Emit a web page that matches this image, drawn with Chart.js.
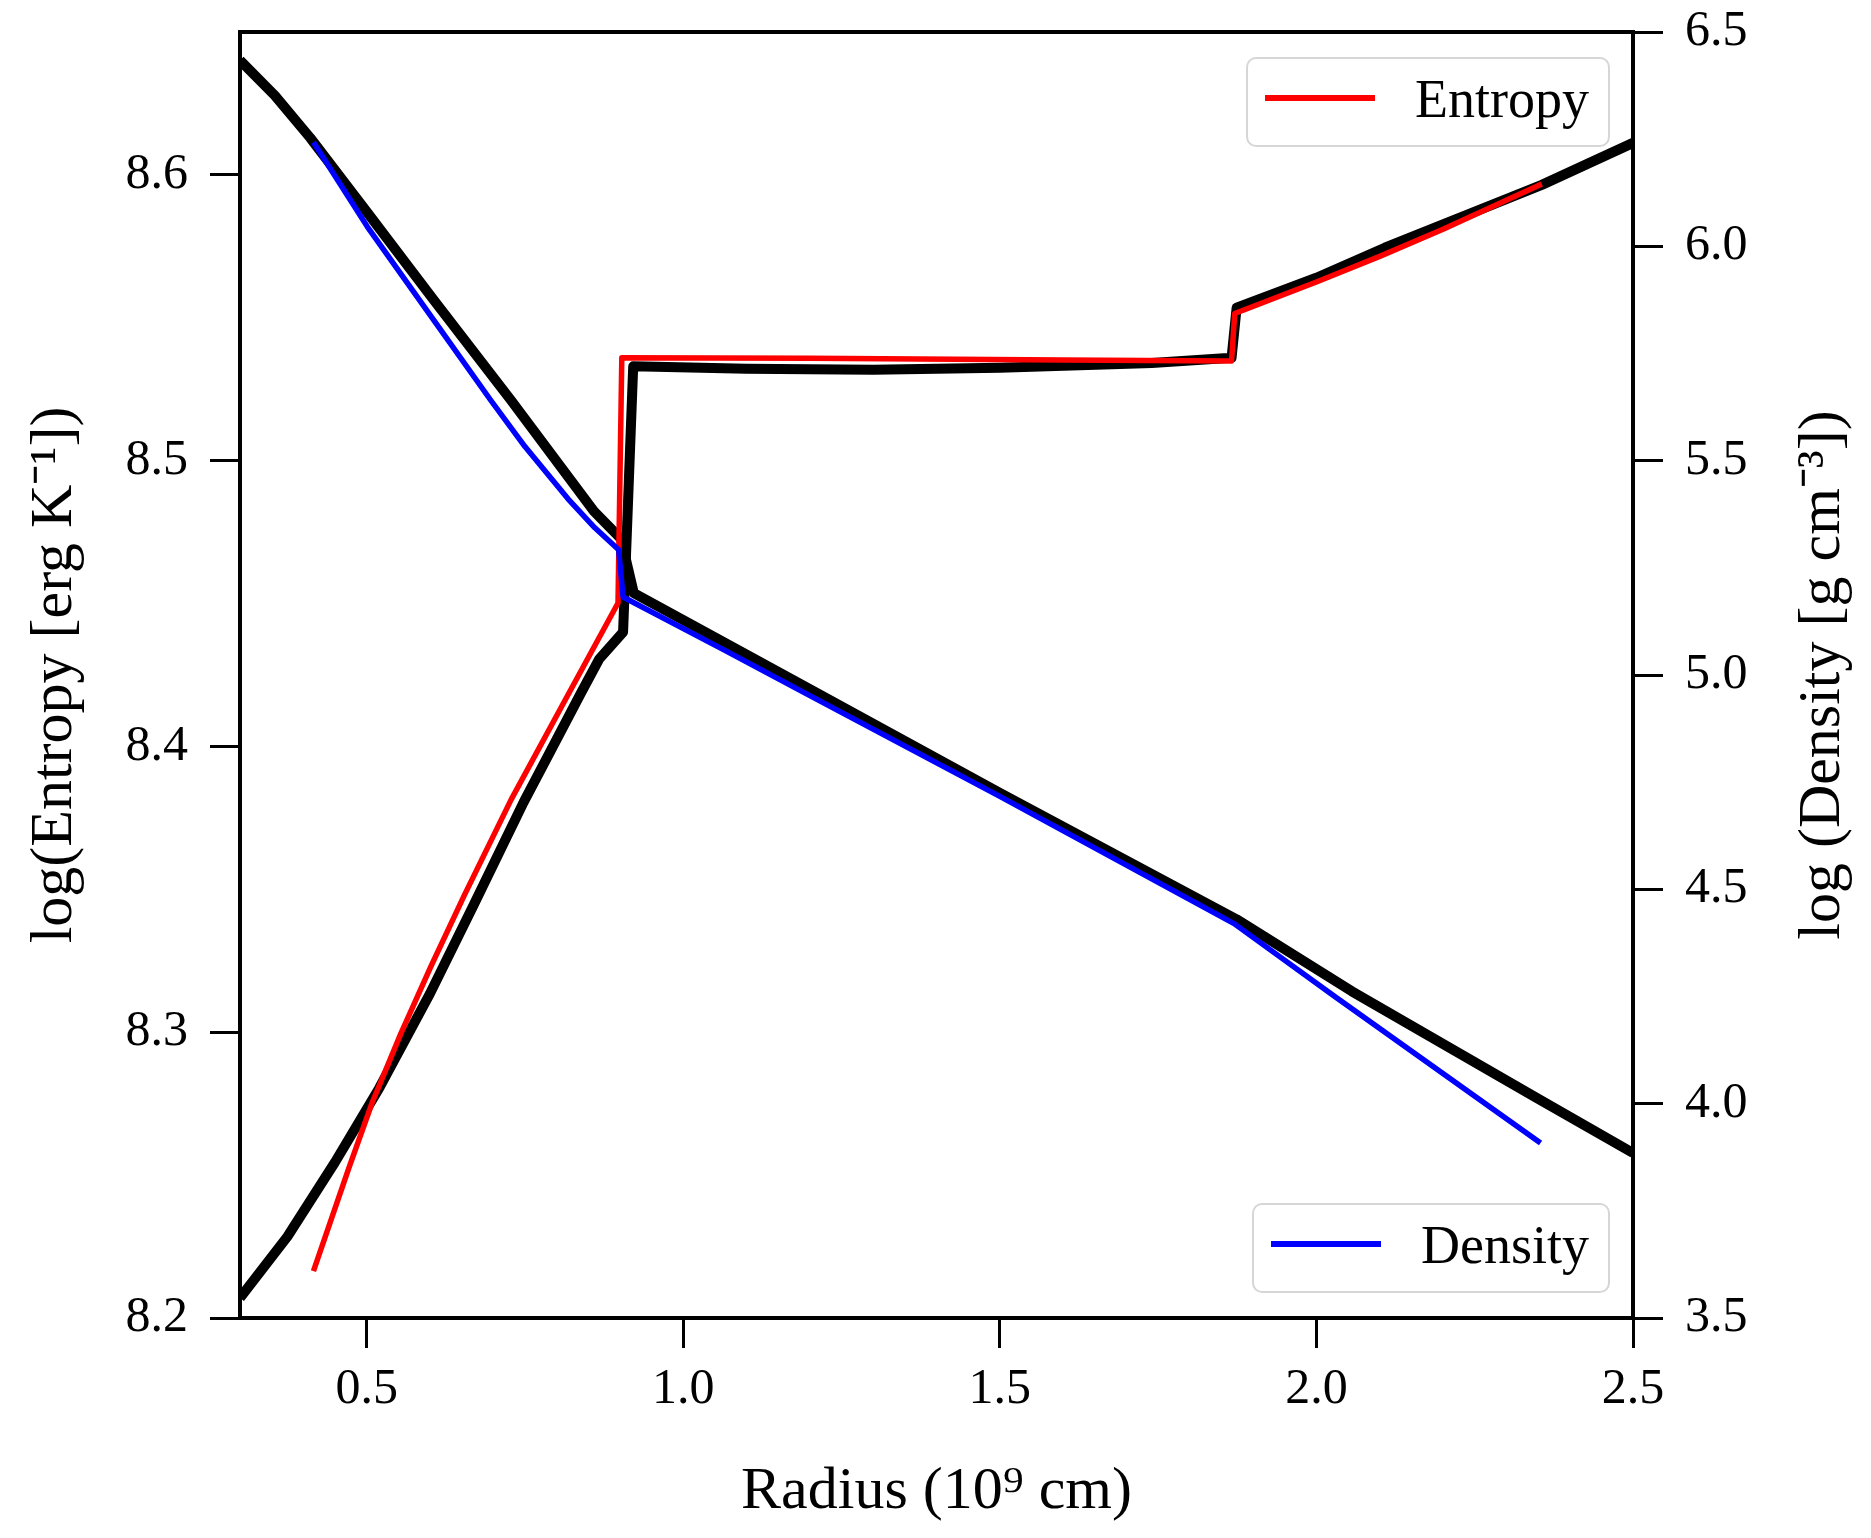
<!DOCTYPE html>
<html>
<head>
<meta charset="utf-8">
<script src="https://cdn.jsdelivr.net/npm/chart.js@4.4.1/dist/chart.umd.min.js"></script>
<style>
  html, body { margin: 0; padding: 0; background: #fff; }
  #wrap { width: 1871px; height: 1538px; position: relative; }
</style>
</head>
<body>
<div id="wrap"><canvas id="profileChart"></canvas></div>
<script>
// values
const entropyRadius = [0.416, 0.472, 0.509, 0.554, 0.601, 0.654, 0.728, 0.811, 0.897, 0.903, 1.2, 1.6, 1.866, 1.871, 2.0, 2.1, 2.2, 2.356];
const entropyValues = [8.2164, 8.2525, 8.2755, 8.2995, 8.3228, 8.3478, 8.3813, 8.4152, 8.4502, 8.536, 8.5358, 8.5352, 8.5349, 8.5515, 8.5625, 8.5715, 8.581, 8.5968];

const densityRadius = [0.416, 0.5015, 0.606, 0.696, 0.75, 0.818, 0.86, 0.898, 0.905, 1.065, 1.2, 1.5, 1.87, 2.029, 2.354];
const densityValues = [6.243, 6.045, 5.828, 5.641, 5.533, 5.411, 5.344, 5.292, 5.182, 5.058, 4.952, 4.717, 4.42, 4.25, 3.908];

const refEntropyRadius = [0.3, 0.375, 0.45, 0.52, 0.6, 0.669, 0.748, 0.786, 0.838, 0.867, 0.905, 0.921, 1.1, 1.3, 1.5, 1.74, 1.866, 1.874, 2.0, 2.108, 2.356, 2.5];
const refEntropyValues = [8.207, 8.2285, 8.2545, 8.2805, 8.3135, 8.3445, 8.3805, 8.3965, 8.4185, 8.4305, 8.44, 8.533, 8.5322, 8.5318, 8.5325, 8.5342, 8.536, 8.5535, 8.564, 8.5745, 8.5965, 8.6112];

const refDensityRadius = [0.3, 0.355, 0.411, 0.5015, 0.606, 0.728, 0.859, 0.902, 0.922, 1.2, 1.5, 1.874, 2.056, 2.345, 2.5];
const refDensityValues = [6.434, 6.352, 6.253, 6.078, 5.875, 5.641, 5.382, 5.317, 5.191, 4.967, 4.725, 4.43, 4.262, 4.016, 3.885];

const radiusTicks = [0.5, 1.0, 1.5, 2.0, 2.5];
const entropyTicks = [8.2, 8.3, 8.4, 8.5, 8.6];
const densityTicks = [3.5, 4.0, 4.5, 5.0, 5.5, 6.0, 6.5];

const FONT = '"Liberation Serif", "Times New Roman", serif';
const densityTitle = 'log (Density [g cm\u207B\u00B3])';

function toPoints(xs, ys) {
  return xs.map((x, i) => ({ x, y: ys[i] }));
}

function setTicks(values) {
  return scale => { scale.ticks = values.map(v => ({ value: v })); };
}

// fixed axis sizes so the plot box sits where the reference has it
function fixSize(prop, size) {
  return scale => {
    scale[prop] = size;
    scale.paddingTop = 0;
    scale.paddingBottom = 0;
    scale.paddingLeft = 0;
    scale.paddingRight = 0;
  };
}

// legend boxes + frame + right-hand title drawn by hand (matplotlib look)
const decorPlugin = {
  id: 'decor',
  afterDatasetsDraw(chart) {
    const { ctx, chartArea: a } = chart;
    ctx.save();
    ctx.strokeStyle = '#000';
    ctx.lineWidth = 4;
    ctx.strokeRect(a.left, a.top, a.right - a.left, a.bottom - a.top);
    ctx.restore();
  },
  afterDraw(chart) {
    const { ctx, chartArea: a } = chart;

    ctx.save();
    ctx.fillStyle = '#000';
    ctx.font = '60px ' + FONT;
    ctx.textAlign = 'center';
    ctx.textBaseline = 'middle';
    ctx.translate(a.right + 190, (a.top + a.bottom) / 2);
    ctx.rotate(-Math.PI / 2);
    ctx.fillText(densityTitle, 0, 0);
    ctx.restore();

    const ds = chart.data.datasets;
    drawLegendBox(ctx, ds[1].label, ds[1].borderColor, a.right - 24, a.top + 26);
    drawLegendBox(ctx, ds[0].label, ds[0].borderColor, a.right - 24, a.bottom - 26 - 88);
  }
};

function drawLegendBox(ctx, label, color, right, top) {
  ctx.save();
  ctx.font = '54px ' + FONT;
  const tw = ctx.measureText(label).width;
  const w = 18 + 110 + 40 + tw + 20;
  const h = 88;
  const left = right - w;
  ctx.beginPath();
  ctx.roundRect(left, top, w, h, 9);
  ctx.fillStyle = 'rgba(255,255,255,0.8)';
  ctx.fill();
  ctx.lineWidth = 2;
  ctx.strokeStyle = '#d6d6d6';
  ctx.stroke();

  ctx.beginPath();
  ctx.moveTo(left + 18, top + 40);
  ctx.lineTo(left + 128, top + 40);
  ctx.lineWidth = 6;
  ctx.strokeStyle = color;
  ctx.stroke();

  ctx.fillStyle = '#000';
  ctx.textBaseline = 'alphabetic';
  ctx.textAlign = 'left';
  ctx.fillText(label, left + 168, top + 59);
  ctx.restore();
}

const tickStyle = {
  drawOnChartArea: false,
  drawTicks: true,
  tickLength: 30,
  tickWidth: 3,
  tickColor: '#000',
  color: '#000'
};

const lineStyle = {
  pointRadius: 0,
  tension: 0,
  borderJoinStyle: 'round',
  fill: false
};

new Chart(document.getElementById('profileChart'), {
  type: 'line',
  data: {
    datasets: [
      {
        ...lineStyle,
        label: 'Density',
        data: toPoints(densityRadius, densityValues),
        yAxisID: 'yD',
        borderColor: '#0000ff',
        borderWidth: 5.5
      },
      {
        ...lineStyle,
        label: 'Entropy',
        data: toPoints(entropyRadius, entropyValues),
        yAxisID: 'yE',
        borderColor: '#ff0000',
        borderWidth: 5.5
      },
      {
        ...lineStyle,
        label: 'Entropy (reference)',
        data: toPoints(refEntropyRadius, refEntropyValues),
        yAxisID: 'yE',
        borderColor: '#000',
        borderWidth: 10
      },
      {
        ...lineStyle,
        label: 'Density (reference)',
        data: toPoints(refDensityRadius, refDensityValues),
        yAxisID: 'yD',
        borderColor: '#000',
        borderWidth: 10
      }
    ]
  },
  options: {
    responsive: true,
    maintainAspectRatio: false,
    animation: false,
    devicePixelRatio: 1,
    layout: { padding: { top: 32, left: 0, right: 0, bottom: 0 } },
    plugins: {
      legend: { display: false },
      tooltip: { enabled: false }
    },
    scales: {
      x: {
        type: 'linear',
        min: 0.3,
        max: 2.5,
        afterBuildTicks: setTicks(radiusTicks),
        afterFit: fixSize('height', 220),
        border: { display: false },
        grid: tickStyle,
        ticks: {
          color: '#000',
          padding: 12,
          maxRotation: 0,
          font: { family: FONT, size: 50 },
          callback: v => v.toFixed(1)
        },
        title: {
          display: true,
          text: 'Radius (10\u2079 cm)',
          color: '#000',
          font: { family: FONT, size: 60 },
          padding: { top: 0, bottom: 10 }
        }
      },
      yE: {
        type: 'linear',
        position: 'left',
        min: 8.2,
        max: 8.65,
        afterBuildTicks: setTicks(entropyTicks),
        afterFit: fixSize('width', 240),
        border: { display: false },
        grid: tickStyle,
        ticks: {
          color: '#000',
          padding: 22,
          font: { family: FONT, size: 50 },
          callback: v => v.toFixed(1)
        },
        title: {
          display: true,
          text: 'log(Entropy [erg K\u207B\u00B9])',
          color: '#000',
          font: { family: FONT, size: 60 },
          padding: { top: 19, bottom: 0 }
        }
      },
      yD: {
        type: 'linear',
        position: 'right',
        min: 3.5,
        max: 6.5,
        afterBuildTicks: setTicks(densityTicks),
        afterFit: fixSize('width', 238),
        border: { display: false },
        grid: tickStyle,
        ticks: {
          color: '#000',
          padding: 22,
          font: { family: FONT, size: 50 },
          callback: v => v.toFixed(1)
        },
        title: { display: false }
      }
    }
  },
  plugins: [decorPlugin]
});
</script>
</body>
</html>
